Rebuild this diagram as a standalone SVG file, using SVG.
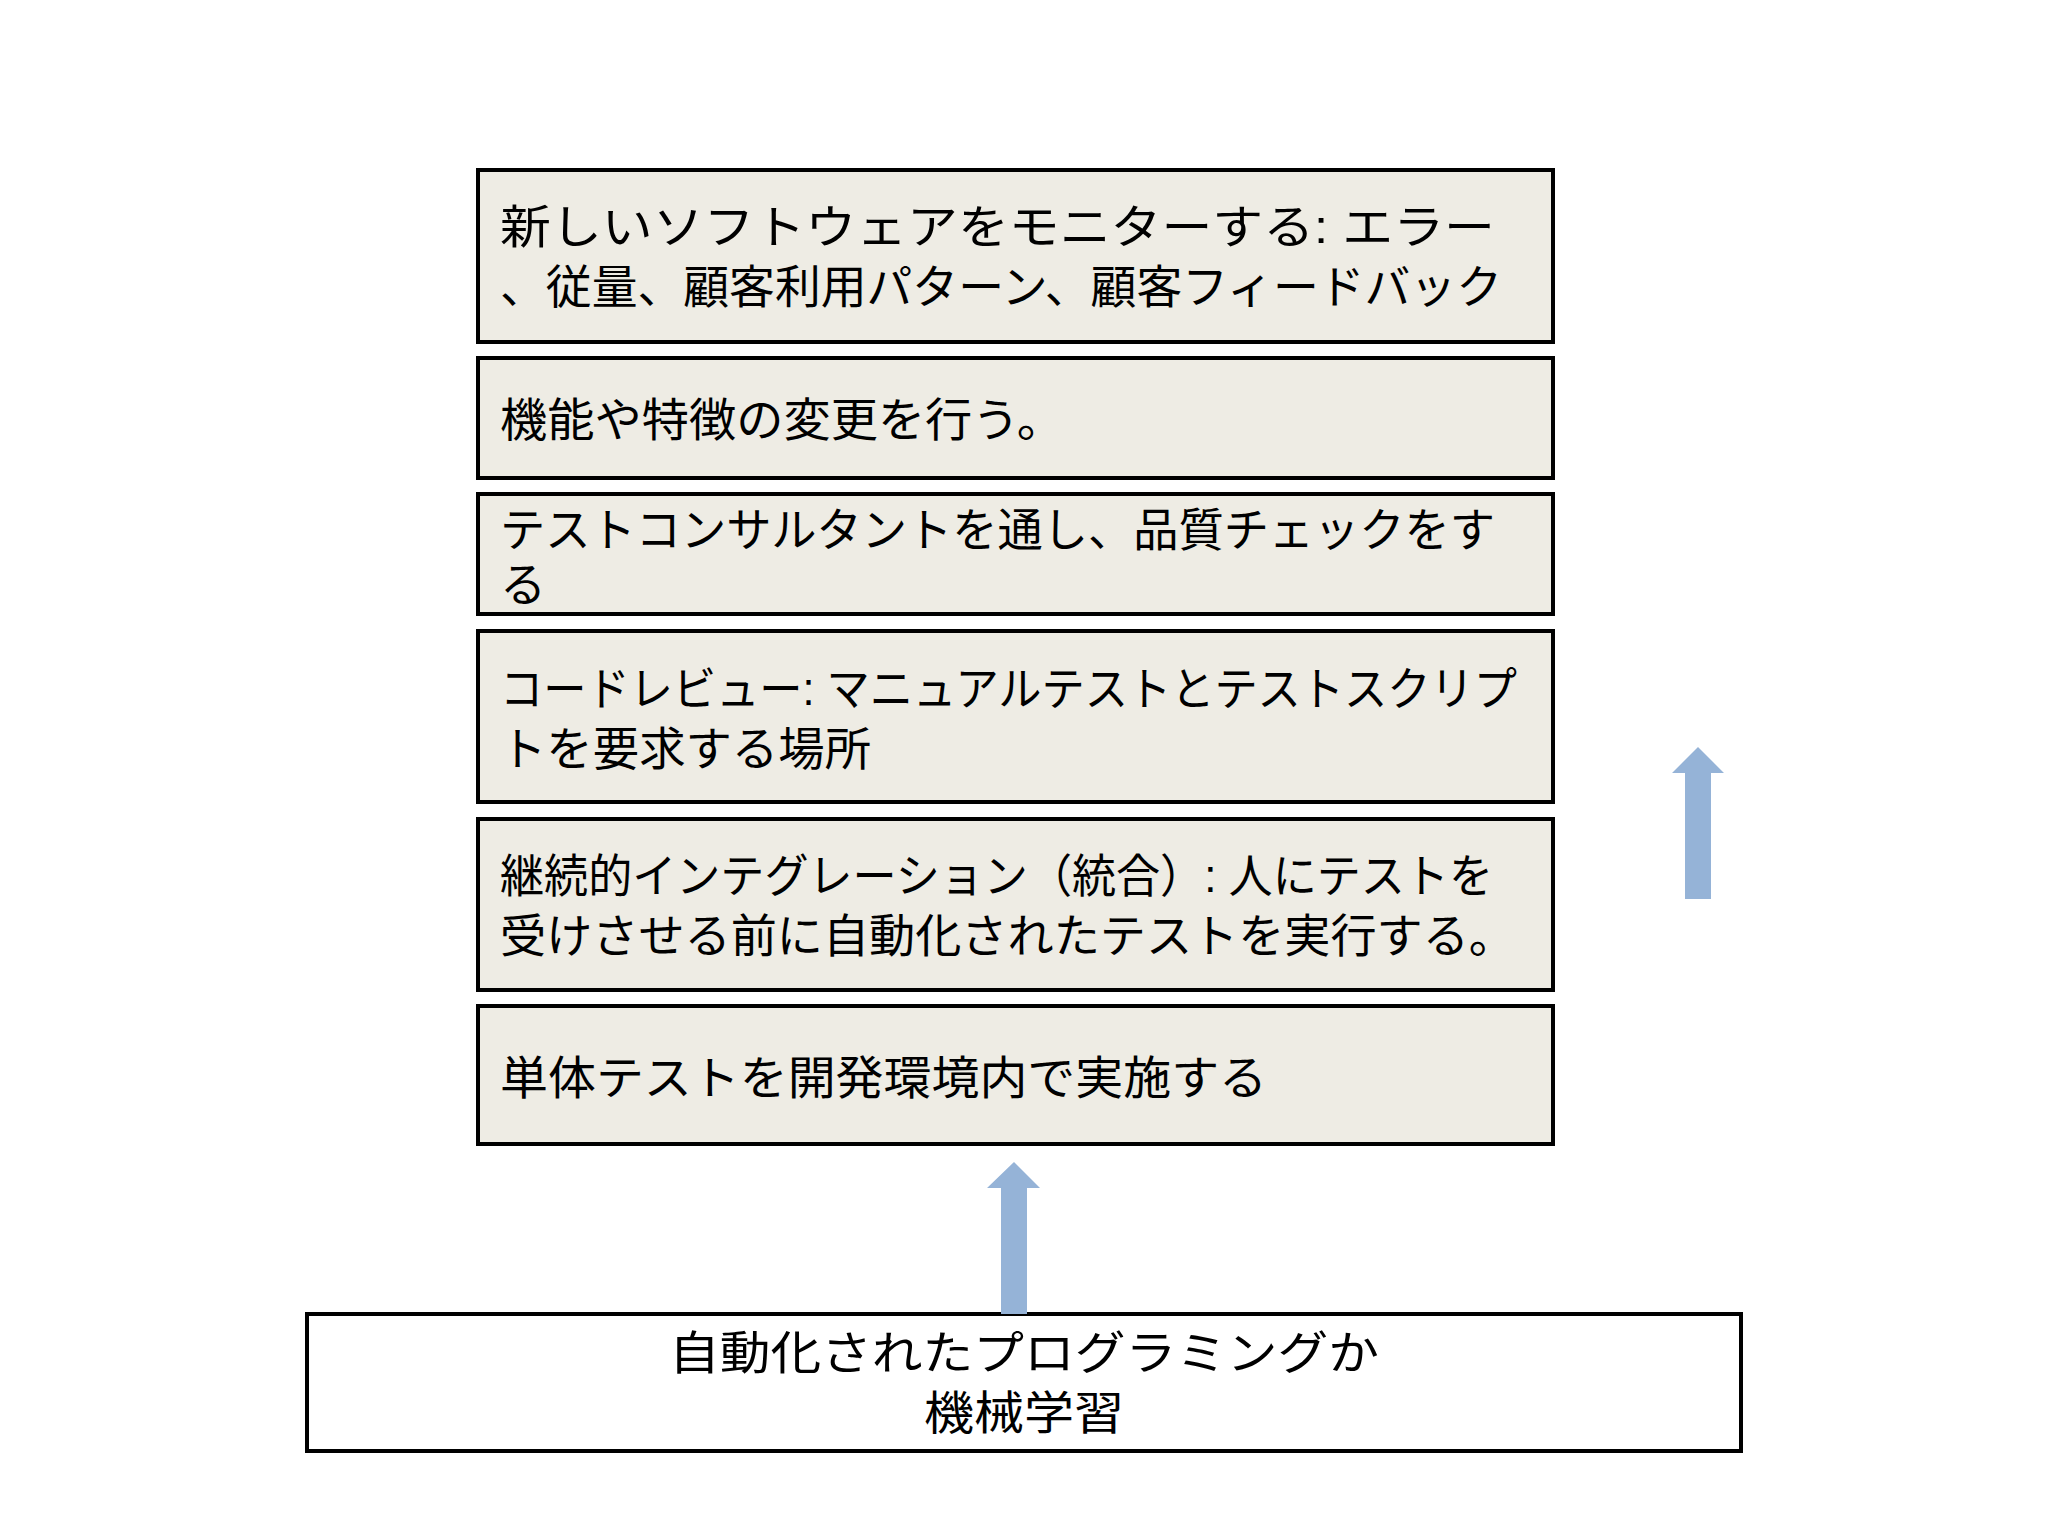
<svg xmlns="http://www.w3.org/2000/svg" width="2048" height="1536" viewBox="0 0 2048 1536">
<style>
.b{fill:#EEECE4;stroke:#000;stroke-width:4}
.w{fill:#fff;stroke:#000;stroke-width:4}
text{font-family:"Liberation Sans","Noto Sans CJK JP",sans-serif;font-size:46px;fill:#000}
.a{fill:#95B3D7}
</style>
<rect width="2048" height="1536" fill="#fff"/>
<g id="n1"><rect class="b" x="478" y="170" width="1075" height="172"/>
<text x="500" y="243" textLength="995" lengthAdjust="spacingAndGlyphs">新しいソフトウェアをモニターする: エラー</text>
<text x="500" y="303" textLength="1002" lengthAdjust="spacingAndGlyphs">、従量、顧客利用パターン、顧客フィードバック</text></g>
<g id="n2"><rect class="b" x="478" y="358" width="1075" height="120"/>
<text x="500" y="436" textLength="564" lengthAdjust="spacingAndGlyphs">機能や特徴の変更を行う。</text></g>
<g id="n3"><rect class="b" x="478" y="494" width="1075" height="120"/>
<text x="500" y="546" textLength="995" lengthAdjust="spacingAndGlyphs">テストコンサルタントを通し、品質チェックをす</text>
<text x="500" y="601">る</text></g>
<g id="n4"><rect class="b" x="478" y="631" width="1075" height="171"/>
<text x="500" y="705" textLength="1017" lengthAdjust="spacingAndGlyphs">コードレビュー: マニュアルテストとテストスクリプ</text>
<text x="500" y="765" textLength="371" lengthAdjust="spacingAndGlyphs">トを要求する場所</text></g>
<g id="n5"><rect class="b" x="478" y="819" width="1075" height="171"/>
<text x="500" y="892" textLength="993" lengthAdjust="spacingAndGlyphs">継続的インテグレーション（統合）: 人にテストを</text>
<text x="500" y="952" textLength="1015" lengthAdjust="spacingAndGlyphs">受けさせる前に自動化されたテストを実行する。</text></g>
<g id="n6"><rect class="b" x="478" y="1006" width="1075" height="138"/>
<text x="500" y="1094" textLength="767" lengthAdjust="spacingAndGlyphs">単体テストを開発環境内で実施する</text></g>
<g id="n7"><rect class="w" x="307" y="1314" width="1434" height="137"/>
<text x="1024" y="1369" text-anchor="middle" textLength="710" lengthAdjust="spacingAndGlyphs">自動化されたプログラミングか</text>
<text x="1024" y="1429" text-anchor="middle" textLength="200" lengthAdjust="spacingAndGlyphs">機械学習</text></g>
<g id="connectors">
<polygon class="a" points="1001,1314 1027,1314 1027,1188 1040,1188 1014,1162 987,1188 1001,1188"/>
<polygon class="a" points="1685,899 1711,899 1711,773 1724,773 1698,747 1672,773 1685,773"/>
</g>
</svg>
